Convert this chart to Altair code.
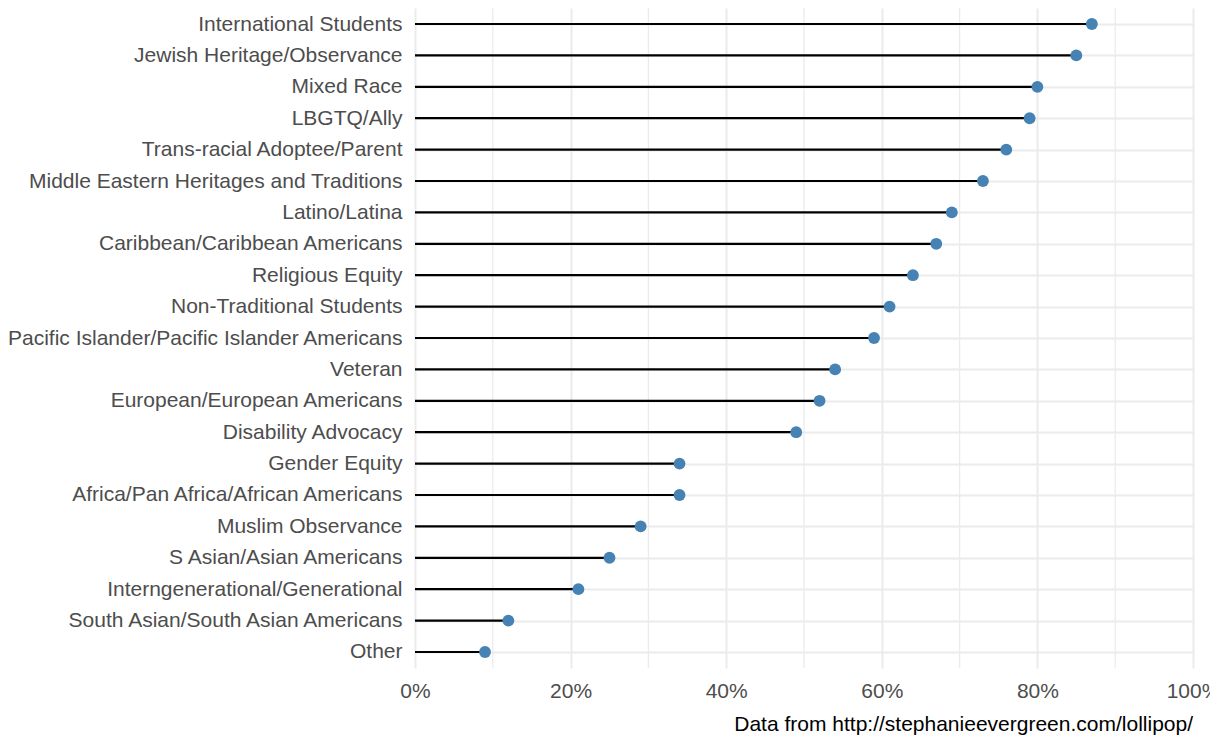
import altair as alt
import pandas as pd

categories = [
    "International Students", "Jewish Heritage/Observance", "Mixed Race", "LBGTQ/Ally",
    "Trans-racial Adoptee/Parent", "Middle Eastern Heritages and Traditions", "Latino/Latina",
    "Caribbean/Caribbean Americans", "Religious Equity", "Non-Traditional Students",
    "Pacific Islander/Pacific Islander Americans", "Veteran", "European/European Americans",
    "Disability Advocacy", "Gender Equity", "Africa/Pan Africa/African Americans",
    "Muslim Observance", "S Asian/Asian Americans", "Interngenerational/Generational",
    "South Asian/South Asian Americans", "Other",
]
values = [0.87, 0.85, 0.80, 0.79, 0.76, 0.73, 0.69, 0.67, 0.64, 0.61, 0.59,
          0.54, 0.52, 0.49, 0.34, 0.34, 0.29, 0.25, 0.21, 0.12, 0.09]
major_ticks = [0, 0.2, 0.4, 0.6, 0.8, 1.0]
minor_ticks = [0.1, 0.3, 0.5, 0.7, 0.9]
caption = "Data from http://stephanieevergreen.com/lollipop/"

df = pd.DataFrame({"cat": categories, "value": values, "start": [0.0] * len(values)})
minor_df = pd.DataFrame({"m": minor_ticks})

FONT = "Liberation Sans"
GRID = "#ebebeb"
FS = 21

xscale = alt.Scale(domain=[0, 1], nice=False, zero=True)
yscale = alt.Scale(type="point", padding=0.51)

x_axis = alt.Axis(values=major_ticks, format=".0%", title=None, grid=True, gridColor=GRID,
                  gridWidth=2, ticks=False, domain=False, labelFont=FONT, labelFontSize=FS,
                  labelColor="#4d4d4d", labelPadding=12, labelFlush=False, labelOverlap=False)
y_axis = alt.Axis(title=None, grid=True, gridColor=GRID, gridWidth=2, ticks=False,
                  domain=False, labelFont=FONT, labelFontSize=FS, labelColor="#4d4d4d",
                  labelPadding=13, labelLimit=600)

minor = alt.Chart(minor_df).mark_rule(color=GRID, strokeWidth=1.3).encode(
    x=alt.X("m:Q", scale=xscale, axis=x_axis)
)

stems = alt.Chart(df).mark_rule(color="black", strokeWidth=2.2).encode(
    y=alt.Y("cat:N", sort=categories, scale=yscale, axis=y_axis),
    x=alt.X("start:Q", scale=xscale, axis=x_axis),
    x2="value:Q",
)

dots = alt.Chart(df).mark_circle(color="#4682b4", opacity=1, size=140).encode(
    y=alt.Y("cat:N", sort=categories, scale=yscale, axis=y_axis),
    x=alt.X("value:Q", scale=xscale, axis=x_axis),
)

chart = alt.layer(minor, stems, dots).properties(
    width=778,
    height=660,
    autosize=alt.AutoSizeParams(type="none"),
    padding={"left": 407, "top": 0, "right": 17, "bottom": 70},
    title=alt.TitleParams(caption, orient="bottom", anchor="end", frame="group",
                          font=FONT, fontSize=FS, fontWeight="normal", color="black",
                          offset=13),
).configure_view(stroke=None)

chart.save("out.html", embed_options={"renderer": "svg", "actions": False})
